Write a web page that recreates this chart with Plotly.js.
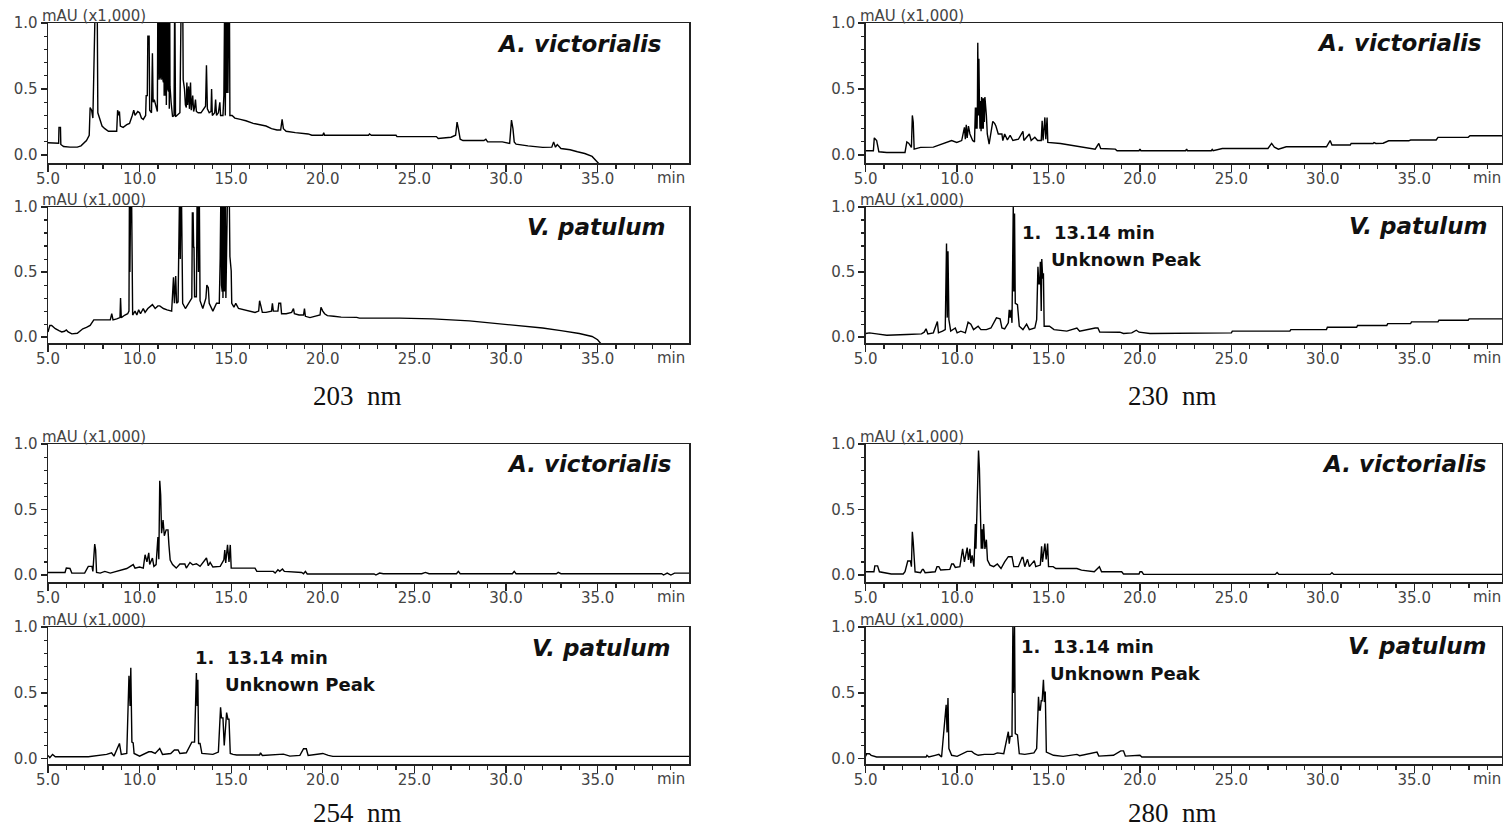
<!DOCTYPE html>
<html>
<head>
<meta charset="utf-8">
<script src="https://cdn.plot.ly/plotly-3.0.1.min.js"></script>
<style>
html, body { margin: 0; padding: 0; background: #fff; }
#chart { width: 1503px; height: 829px; }
</style>
</head>
<body>
<div id="chart"></div>
<script>
// HPLC chromatograms: [retention time (min), absorbance (mAU x1,000)]
// Values above 1.0 are off-scale and get clipped by the axis range.

// 203 nm
const av203 = [[5.0,0.093],[5.5,0.09],[5.58,0.09],[5.6,0.21],[5.68,0.21],[5.7,0.08],[5.85,0.065],[6.2,0.06],[6.6,0.06],
  [6.8,0.07],[7.1,0.11],[7.25,0.15],[7.3,0.36],[7.38,0.34],[7.45,0.28],[7.6,1.3],[7.68,1.3],[7.72,0.32],[7.8,0.28],
  [7.95,0.22],[8.1,0.2],[8.3,0.18],[8.75,0.18],[8.8,0.34],[8.85,0.3],[8.9,0.33],[8.95,0.22],[9.1,0.21],[9.3,0.23],
  [9.45,0.24],[9.6,0.3],[9.68,0.34],[9.75,0.3],[9.9,0.33],[10.0,0.32],[10.1,0.28],[10.2,0.27],[10.33,0.3],[10.36,0.45],
  [10.42,0.45],[10.45,0.9],[10.52,0.9],[10.55,0.34],[10.65,0.32],[10.7,0.77],[10.74,0.4],[10.8,0.42],[10.9,0.35],
  [10.97,0.33],[11.0,1.3],[11.02,0.57],[11.04,1.3],[11.06,0.57],[11.08,1.3],[11.1,0.58],[11.12,1.3],[11.14,0.6],
  [11.16,1.3],[11.18,0.57],[11.2,1.3],[11.22,0.57],[11.24,1.3],[11.26,0.58],[11.28,1.3],[11.3,0.55],[11.32,1.3],
  [11.34,0.45],[11.36,1.3],[11.38,0.5],[11.4,1.3],[11.42,0.45],[11.44,1.3],[11.46,0.38],[11.48,1.3],[11.5,0.45],
  [11.52,1.3],[11.54,0.5],[11.56,1.3],[11.58,0.48],[11.6,1.3],[11.62,0.35],[11.64,1.3],[11.66,0.52],[11.72,0.4],
  [11.8,0.29],[11.88,0.3],[11.92,1.3],[11.96,0.29],[12.05,0.3],[12.2,0.32],[12.28,1.3],[12.35,1.3],[12.38,0.57],
  [12.45,0.5],[12.5,0.38],[12.55,0.36],[12.58,0.55],[12.62,0.38],[12.68,0.52],[12.72,0.35],[12.78,0.55],[12.82,0.34],
  [12.9,0.45],[12.95,0.33],[13.0,0.36],[13.05,0.42],[13.1,0.33],[13.2,0.32],[13.35,0.32],[13.5,0.35],[13.6,0.37],
  [13.65,0.68],[13.7,0.35],[13.8,0.32],[13.9,0.33],[13.93,0.5],[13.97,0.3],[14.1,0.32],[14.15,0.42],[14.2,0.3],
  [14.3,0.32],[14.38,0.4],[14.42,0.3],[14.55,0.3],[14.6,0.45],[14.65,1.3],[14.68,0.3],[14.72,1.3],[14.74,0.47],
  [14.76,1.3],[14.78,0.47],[14.8,1.3],[14.82,0.47],[14.84,1.3],[14.86,0.47],[14.88,1.3],[14.9,1.3],[14.93,0.3],
  [15.05,0.3],[15.2,0.28],[15.5,0.27],[15.8,0.26],[16.2,0.24],[16.5,0.23],[16.9,0.22],[17.2,0.2],
  [17.5,0.19],[17.7,0.19],[17.78,0.27],[17.85,0.2],[18.0,0.18],[18.5,0.17],[18.8,0.165],[19.2,0.16],[19.4,0.15],
  [20.0,0.15],[20.05,0.17],[20.1,0.15],[22.5,0.15],[22.55,0.16],[22.65,0.15],[24.0,0.15],[24.05,0.14],[26.2,0.14],
  [26.3,0.126],[27.0,0.135],[27.25,0.15],[27.33,0.25],[27.4,0.2],[27.5,0.12],[27.65,0.11],[28.8,0.11],[28.9,0.12],
  [29.0,0.1],[29.8,0.1],[30.2,0.088],[30.3,0.265],[30.38,0.2],[30.45,0.1],[30.55,0.083],[31.2,0.07],[32.0,0.058],
  [32.5,0.06],[32.6,0.1],[32.7,0.06],[32.8,0.08],[33.0,0.05],[33.5,0.04],[33.9,0.025],[34.3,0.012],[34.7,-0.01],
  [35.0,-0.06],[35.3,-0.1]];

const vp203 = [[5.0,0.04],[5.1,0.09],[5.2,0.09],[5.4,0.065],[5.6,0.05],[5.75,0.04],[5.9,0.045],[6.0,0.055],[6.1,0.04],
  [6.3,0.025],[6.6,0.03],[6.9,0.064],[7.1,0.075],[7.3,0.09],[7.5,0.133],[8.4,0.133],[8.48,0.18],[8.55,0.133],
  [8.75,0.14],[8.93,0.15],[8.96,0.3],[9.0,0.15],[9.2,0.17],[9.35,0.18],[9.42,0.2],[9.45,1.3],[9.47,0.5],[9.49,1.3],
  [9.51,0.5],[9.53,1.3],[9.55,1.3],[9.58,0.39],
  [9.62,0.17],[9.75,0.2],[9.85,0.17],[9.95,0.21],[10.05,0.18],[10.2,0.22],[10.3,0.19],[10.45,0.22],[10.6,0.24],
  [10.7,0.25],[10.85,0.22],[11.0,0.24],[11.1,0.24],[11.3,0.22],[11.5,0.21],[11.75,0.2],[11.85,0.46],[11.9,0.26],
  [11.97,0.47],[12.02,0.26],[12.1,0.27],[12.2,1.3],[12.22,0.6],[12.24,1.3],[12.27,1.3],[12.3,0.91],[12.35,0.26],
  [12.5,0.22],[12.75,0.28],[12.85,0.3],[12.88,0.96],[12.9,0.69],[12.92,0.96],[12.95,0.69],[12.97,0.69],[13.0,0.31],
  [13.1,0.31],[13.15,1.3],[13.17,0.5],[13.19,1.3],[13.21,0.5],[13.23,1.3],[13.25,1.3],[13.3,0.28],
  [13.45,0.22],[13.62,0.3],[13.67,0.4],[13.75,0.38],[13.8,0.26],[14.0,0.2],[14.2,0.26],[14.35,0.26],[14.4,0.61],
  [14.45,1.3],[14.47,0.4],[14.49,1.3],[14.51,0.35],[14.53,1.3],[14.55,0.3],[14.57,1.3],[14.59,0.3],[14.61,1.3],
  [14.63,0.35],[14.65,1.3],[14.68,1.3],[14.71,0.3],[14.82,1.3],[14.88,1.3],
  [14.93,0.62],[15.0,0.51],[15.03,0.26],[15.15,0.23],[15.25,0.26],[15.4,0.22],[15.9,0.2],[16.3,0.19],[16.5,0.2],
  [16.55,0.28],[16.62,0.24],[16.7,0.19],[16.9,0.19],[17.2,0.2],[17.25,0.26],[17.3,0.2],[17.55,0.2],[17.6,0.26],
  [17.7,0.26],[17.75,0.18],[18.0,0.18],[18.3,0.19],[18.4,0.22],[18.45,0.18],[18.7,0.17],[18.95,0.17],[19.0,0.22],
  [19.05,0.16],[19.3,0.15],[19.6,0.16],[19.85,0.17],[19.9,0.23],[19.95,0.21],[20.0,0.2],[20.1,0.18],[20.25,0.165],
  [20.6,0.16],[21.0,0.154],[21.85,0.152],[22.0,0.146],[24.2,0.146],[26.0,0.14],[28.0,0.125],[30.0,0.1],[32.0,0.07],
  [33.0,0.05],[34.0,0.028],[34.7,0.005],[35.0,-0.02],[35.3,-0.07]];

// 230 nm
const av230 = [[5.0,0.033],[5.42,0.033],[5.47,0.13],[5.55,0.12],[5.6,0.11],[5.72,0.025],[6.15,0.02],[7.15,0.02],
  [7.25,0.1],[7.35,0.09],[7.5,0.058],[7.55,0.3],[7.6,0.25],[7.65,0.045],[8.0,0.058],[8.7,0.06],[8.9,0.07],
  [9.25,0.083],[9.45,0.096],[9.7,0.11],[9.98,0.096],[10.25,0.11],[10.4,0.21],[10.45,0.12],[10.5,0.23],[10.55,0.13],
  [10.62,0.22],[10.7,0.16],[10.85,0.11],[10.95,0.1],[11.0,0.36],[11.03,0.2],[11.06,0.36],[11.09,0.2],[11.11,0.36],
  [11.13,0.85],[11.16,0.3],[11.19,0.73],[11.22,0.41],[11.25,0.2],[11.28,0.41],[11.31,0.18],[11.34,0.44],[11.37,0.2],
  [11.4,0.43],[11.43,0.2],[11.46,0.43],[11.49,0.25],[11.52,0.44],[11.56,0.3],[11.6,0.3],[11.65,0.16],[11.75,0.083],
  [11.95,0.255],[12.05,0.24],[12.12,0.22],[12.25,0.16],
  [12.45,0.16],[12.5,0.11],[12.6,0.16],[12.75,0.115],[12.9,0.15],[13.05,0.11],[13.35,0.12],[13.6,0.18],[13.65,0.11],
  [13.95,0.16],[14.05,0.11],[14.25,0.135],[14.4,0.11],[14.6,0.11],[14.65,0.26],[14.7,0.11],[14.8,0.285],[14.85,0.12],
  [14.92,0.285],[14.96,0.096],[15.65,0.088],[16.4,0.07],[17.1,0.058],[17.55,0.045],[17.75,0.088],[17.85,0.05],
  [18.65,0.045],[18.75,0.033],[19.95,0.033],[20.0,0.045],[20.05,0.033],[22.5,0.033],[22.55,0.045],[22.6,0.033],
  [23.9,0.033],[23.95,0.043],[24.0,0.033],[24.5,0.05],[27.0,0.05],[27.2,0.088],[27.35,0.06],[27.57,0.045],
  [28.0,0.063],[30.2,0.063],[30.4,0.11],[30.5,0.076],[31.5,0.076],[31.55,0.088],[32.75,0.088],[32.8,0.095],
  [32.9,0.088],[33.3,0.09],[33.6,0.108],[34.7,0.108],[34.8,0.114],[36.2,0.114],[36.3,0.134],[37.95,0.134],
  [38.05,0.146],[39.8,0.146]];

const vp230 = [[5.0,0.028],[5.2,0.033],[5.6,0.025],[6.15,0.015],[7.25,0.02],[8.05,0.025],[8.2,0.038],[8.3,0.064],
  [8.4,0.025],[8.7,0.033],[8.92,0.12],[8.98,0.033],[9.2,0.046],[9.35,0.058],[9.42,0.72],[9.46,0.15],[9.5,0.66],
  [9.55,0.135],[9.65,0.046],[9.9,0.07],[10.0,0.033],[10.2,0.046],[10.45,0.033],[10.6,0.115],[10.75,0.1],[10.9,0.058],
  [11.15,0.084],[11.3,0.058],[11.6,0.058],[11.85,0.07],[12.15,0.148],[12.35,0.14],[12.45,0.07],[12.6,0.064],
  [12.8,0.11],[12.85,0.21],[12.9,0.15],[12.95,0.21],[13.0,0.11],[13.07,1.0],[13.1,0.35],[13.14,0.95],[13.18,0.26],
  [13.3,0.25],[13.4,0.084],[13.6,0.058],[13.8,0.1],[13.95,0.058],[14.25,0.07],[14.35,0.135],[14.42,0.54],[14.47,0.41],
  [14.52,0.41],[14.55,0.58],[14.6,0.2],[14.63,0.6],[14.68,0.45],[14.72,0.49],[14.76,0.084],[15.05,0.084],[15.3,0.058],
  [16.0,0.046],[16.55,0.07],[16.7,0.046],[17.55,0.07],[17.7,0.07],[17.8,0.04],[18.9,0.038],[19.1,0.028],[19.55,0.033],
  [19.8,0.053],[19.95,0.038],[20.55,0.028],[25.0,0.033],[25.05,0.046],[28.2,0.046],[28.25,0.058],[30.2,0.058],
  [30.25,0.076],[31.85,0.076],[31.9,0.09],[33.5,0.09],[33.55,0.104],[34.8,0.104],[34.85,0.117],[36.3,0.117],
  [36.35,0.13],[37.95,0.13],[38.0,0.14],[39.8,0.14]];

// 254 nm
const av254 = [[5.0,0.02],[5.93,0.02],[6.0,0.053],[6.2,0.05],[6.3,0.015],[7.0,0.015],[7.2,0.066],[7.4,0.066],
  [7.45,0.028],[7.55,0.236],[7.6,0.19],[7.65,0.02],[7.85,0.015],[8.1,0.028],[8.4,0.015],[8.7,0.028],[9.0,0.04],
  [9.3,0.05],[9.65,0.08],[9.75,0.053],[10.0,0.061],[10.2,0.053],[10.3,0.155],[10.4,0.1],[10.5,0.17],[10.55,0.08],
  [10.7,0.13],[10.78,0.066],[10.9,0.08],[11.0,0.29],[11.05,0.12],[11.1,0.72],[11.15,0.61],[11.2,0.32],[11.28,0.42],
  [11.35,0.3],[11.45,0.345],[11.55,0.345],[11.6,0.23],[11.67,0.115],[11.8,0.08],[12.0,0.053],[12.2,0.084],
  [12.47,0.084],[12.55,0.053],[12.75,0.096],[12.9,0.078],[13.1,0.086],[13.3,0.066],[13.65,0.13],[13.75,0.071],
  [13.85,0.096],[14.0,0.061],[14.4,0.066],[14.6,0.117],[14.65,0.19],[14.7,0.092],[14.8,0.23],[14.88,0.1],[14.95,0.23],
  [15.0,0.053],[16.3,0.053],[16.4,0.028],[17.3,0.028],[17.4,0.015],[17.55,0.04],[17.65,0.028],[17.8,0.046],
  [17.9,0.028],[18.85,0.02],[18.95,0.01],[19.05,0.028],[19.15,0.008],[22.8,0.008],[22.9,0.0],[23.1,0.015],
  [23.3,0.01],[25.4,0.01],[25.6,0.02],[25.8,0.01],[27.3,0.01],[27.4,0.028],[27.5,0.01],[30.35,0.01],[30.45,0.028],
  [30.55,0.01],[32.75,0.01],[32.85,0.02],[33.0,0.01],[38.5,0.01],[38.6,0.0],[38.8,0.015],[39.0,0.0],[39.2,0.015],
  [40.0,0.015]];

const vp254 = [[5.0,0.025],[5.1,0.008],[5.25,0.033],[5.4,0.015],[7.2,0.015],[7.5,0.02],[8.2,0.033],[8.47,0.045],
  [8.6,0.02],[8.9,0.116],[9.0,0.033],[9.3,0.04],[9.42,0.63],[9.48,0.4],[9.52,0.69],[9.58,0.126],[9.65,0.12],
  [9.7,0.04],[10.0,0.02],[10.5,0.053],[10.65,0.053],[10.85,0.04],[11.1,0.078],[11.25,0.033],[11.7,0.04],
  [11.9,0.066],[12.1,0.066],[12.2,0.04],[12.55,0.045],[12.85,0.126],[13.0,0.126],[13.1,0.65],[13.14,0.4],
  [13.18,0.6],[13.22,0.116],[13.3,0.116],[13.4,0.04],[14.0,0.033],[14.3,0.05],[14.42,0.39],[14.47,0.31],
  [14.55,0.31],[14.62,0.1],[14.75,0.35],[14.82,0.3],[14.88,0.3],[14.95,0.04],[15.1,0.033],[15.3,0.028],
  [16.55,0.028],[16.6,0.045],[16.7,0.025],[17.55,0.035],[17.85,0.035],[18.2,0.02],[18.75,0.025],[18.95,0.076],
  [19.1,0.076],[19.2,0.025],[19.85,0.04],[20.0,0.04],[20.3,0.025],[20.55,0.018],[40.0,0.018]];

// 280 nm
const av280 = [[5.0,0.025],[5.45,0.025],[5.5,0.07],[5.65,0.07],[5.75,0.025],[6.4,0.008],[7.05,0.008],[7.15,0.025],
  [7.3,0.107],[7.45,0.107],[7.5,0.064],[7.55,0.33],[7.6,0.25],[7.7,0.025],[8.0,0.018],[8.1,0.043],[8.15,0.043],
  [8.25,0.018],[8.8,0.025],[8.9,0.064],[9.0,0.064],[9.1,0.038],[9.6,0.043],[9.7,0.084],[9.8,0.084],[9.9,0.058],
  [10.15,0.064],[10.3,0.2],[10.4,0.1],[10.55,0.21],[10.62,0.115],[10.7,0.2],[10.75,0.09],[10.82,0.15],[10.92,0.064],
  [11.0,0.39],[11.03,0.2],[11.06,0.39],[11.1,0.44],[11.17,0.95],[11.22,0.81],[11.28,0.37],[11.32,0.2],[11.36,0.35],
  [11.4,0.2],[11.45,0.39],[11.52,0.2],[11.6,0.27],[11.66,0.115],[11.8,0.076],[12.0,0.064],[12.2,0.084],[12.4,0.05],
  [12.6,0.1],[12.8,0.14],[13.0,0.14],
  [13.1,0.064],[13.35,0.064],[13.55,0.135],[13.6,0.135],[13.7,0.064],[13.85,0.12],[13.95,0.064],[14.22,0.11],
  [14.3,0.064],[14.55,0.076],[14.62,0.22],[14.67,0.1],[14.8,0.24],[14.87,0.12],[14.95,0.24],[15.0,0.064],
  [15.25,0.064],[15.4,0.05],[16.55,0.05],[16.8,0.038],[17.5,0.025],[17.78,0.064],[17.9,0.025],[19.0,0.025],
  [19.1,0.008],[19.95,0.008],[20.0,0.025],[20.1,0.025],[20.2,0.005],[27.4,0.005],[27.5,0.02],[27.6,0.005],
  [30.4,0.005],[30.5,0.018],[30.6,0.005],[39.8,0.005]];

const vp280 = [[5.0,0.018],[5.05,0.038],[5.2,0.038],[5.3,0.026],[5.6,0.013],[8.3,0.013],[8.35,0.026],[8.45,0.013],
  [8.8,0.026],[9.0,0.033],[9.15,0.013],[9.4,0.41],[9.45,0.2],[9.5,0.46],[9.55,0.077],[9.7,0.026],[10.0,0.018],
  [10.55,0.056],[10.8,0.056],[10.95,0.038],[11.15,0.026],[11.5,0.033],[12.0,0.033],[12.2,0.044],[12.55,0.038],
  [12.8,0.205],[12.85,0.115],[12.9,0.17],[13.0,0.17],[13.05,1.0],[13.08,0.5],[13.1,1.0],[13.12,0.5],[13.14,1.0],
  [13.18,0.19],[13.3,0.18],
  [13.4,0.038],[13.7,0.033],[14.2,0.044],[14.35,0.077],[14.45,0.47],[14.5,0.37],[14.55,0.37],[14.6,0.44],
  [14.65,0.44],[14.72,0.6],[14.77,0.43],[14.82,0.51],[14.88,0.05],[15.0,0.044],[15.27,0.026],[15.8,0.018],
  [16.55,0.033],[16.7,0.023],[17.55,0.05],[17.65,0.05],[17.75,0.02],[18.55,0.026],[18.95,0.06],[19.1,0.06],
  [19.2,0.02],[19.65,0.026],[20.0,0.026],[20.1,0.013],[39.8,0.013]];

const speciesNames = ['A. victorialis', 'V. patulum'];
const wavelengths = ['203\u00a0\u00a0nm', '230\u00a0\u00a0nm', '254\u00a0\u00a0nm', '280\u00a0\u00a0nm'];
const peakLabel = ['1.\u00a0\u00a013.14 min', 'Unknown Peak'];

// ---- page geometry (pixels) ----
const W = 1503, H = 829;
const px = x => x / W;
const py = y => 1 - y / H;

const cols = [
  { x0: 48, x1: 689, range: [5, 39.99] },
  { x0: 865.7, x1: 1502, range: [5, 39.8] }
];
const rows = [
  { top: 23, bottom: 163, ymin: -0.06 },
  { top: 207, bottom: 343, ymin: -0.045 },
  { top: 444, bottom: 582, ymin: -0.053 },
  { top: 627, bottom: 764, ymin: -0.04 }
];

// panel list: which series goes where
const panels = [
  { data: av203, col: 0, row: 0, sp: 0, lab: [663, 44] },
  { data: vp203, col: 0, row: 1, sp: 1, lab: [668, 227] },
  { data: av230, col: 1, row: 0, sp: 0, lab: [1483, 43] },
  { data: vp230, col: 1, row: 1, sp: 1, lab: [1490, 226] },
  { data: av254, col: 0, row: 2, sp: 0, lab: [673, 464] },
  { data: vp254, col: 0, row: 3, sp: 1, lab: [673, 648] },
  { data: av280, col: 1, row: 2, sp: 0, lab: [1488, 464] },
  { data: vp280, col: 1, row: 3, sp: 1, lab: [1489, 646] }
];

const axisColor = '#222';
const tickFont = { family: 'DejaVu Sans, Arial, sans-serif', size: 15, color: '#444' };

const traces = [];
const layout = {
  width: W, height: H,
  margin: { l: 0, r: 0, t: 0, b: 0 },
  paper_bgcolor: '#fff', plot_bgcolor: '#fff',
  showlegend: false,
  annotations: []
};

panels.forEach((p, i) => {
  const n = i === 0 ? '' : String(i + 1);
  const c = cols[p.col], r = rows[p.row];
  traces.push({
    type: 'scatter', mode: 'lines',
    x: p.data.map(d => d[0]),
    y: p.data.map(d => d[1]),
    xaxis: 'x' + n, yaxis: 'y' + n,
    line: { color: '#000', width: 1.4 },
    hoverinfo: 'x+y'
  });
  layout['xaxis' + n] = {
    domain: [px(c.x0), px(c.x1)], range: c.range, anchor: 'y' + n,
    showline: true, linecolor: axisColor, linewidth: 1.5, mirror: true,
    showgrid: false, zeroline: false,
    tickmode: 'linear', tick0: 5, dtick: 5, tickformat: '.1f',
    ticks: 'outside', ticklen: 7, tickwidth: 1.3, tickcolor: axisColor,
    ticklabelstandoff: -6,
    minor: { tickmode: 'linear', tick0: 5, dtick: 1, ticks: 'outside', ticklen: 4, tickwidth: 1.2, tickcolor: axisColor, showgrid: false },
    tickfont: tickFont, fixedrange: true
  };
  layout['yaxis' + n] = {
    domain: [py(r.bottom), py(r.top)], range: [r.ymin, 1.0], anchor: 'x' + n,
    showline: true, linecolor: axisColor, linewidth: 1.5, mirror: true,
    showgrid: false, zeroline: false,
    tickmode: 'linear', tick0: 0, dtick: 0.5, tickformat: '.1f',
    ticks: 'outside', ticklen: 6, tickwidth: 1.3, tickcolor: axisColor,
    minor: { tickmode: 'linear', tick0: 0, dtick: 0.1, ticks: 'outside', ticklen: 3, tickwidth: 1.1, tickcolor: axisColor, showgrid: false },
    tickfont: tickFont, fixedrange: true
  };
  // unit caption above the frame
  layout.annotations.push({
    xref: 'paper', yref: 'paper', x: px(c.x0 - 8), y: py(r.top),
    xanchor: 'left', yanchor: 'bottom', yshift: -4, showarrow: false,
    text: 'mAU (x1,000)', font: tickFont
  });
  // time unit at the end of the axis
  layout.annotations.push({
    xref: 'x' + n, yref: 'paper', x: 39, y: py(r.bottom),
    xanchor: 'center', yanchor: 'top', yshift: -4, showarrow: false,
    text: 'min', font: tickFont
  });
  // species name
  layout.annotations.push({
    xref: 'paper', yref: 'paper', x: px(p.lab[0]), y: py(p.lab[1]),
    xanchor: 'right', yanchor: 'middle', showarrow: false,
    text: '<b><i>' + speciesNames[p.sp] + '</i></b>',
    font: { family: 'DejaVu Sans, sans-serif', size: 23, color: '#111' }
  });
});

// detection wavelength under each pair (bottom edge of the text box, px)
[[357, 412, 0], [1172, 412, 1], [357, 829, 2], [1172, 829, 3]].forEach(w => {
  layout.annotations.push({
    xref: 'paper', yref: 'paper', x: px(w[0]), y: py(w[1]),
    xanchor: 'center', yanchor: 'bottom', showarrow: false, borderpad: 0,
    text: wavelengths[w[2]],
    font: { family: 'Liberation Serif, Times New Roman, serif', size: 27, color: '#111' }
  });
});

// unknown peak callouts (13.14 min) in the V. patulum traces
[[1020, 1049, 232, 259], [193, 223, 657, 684], [1019, 1048, 646, 673]].forEach(a => {
  const f = { family: 'DejaVu Sans, sans-serif', size: 18, color: '#111' };
  layout.annotations.push({
    xref: 'paper', yref: 'paper', x: px(a[0]), y: py(a[2]),
    xanchor: 'left', yanchor: 'middle', showarrow: false,
    text: '<b>' + peakLabel[0] + '</b>', font: f
  });
  layout.annotations.push({
    xref: 'paper', yref: 'paper', x: px(a[1]), y: py(a[3]),
    xanchor: 'left', yanchor: 'middle', showarrow: false,
    text: '<b>' + peakLabel[1] + '</b>', font: f
  });
});

Plotly.newPlot('chart', traces, layout, { staticPlot: true, displayModeBar: false });
</script>
</body>
</html>
